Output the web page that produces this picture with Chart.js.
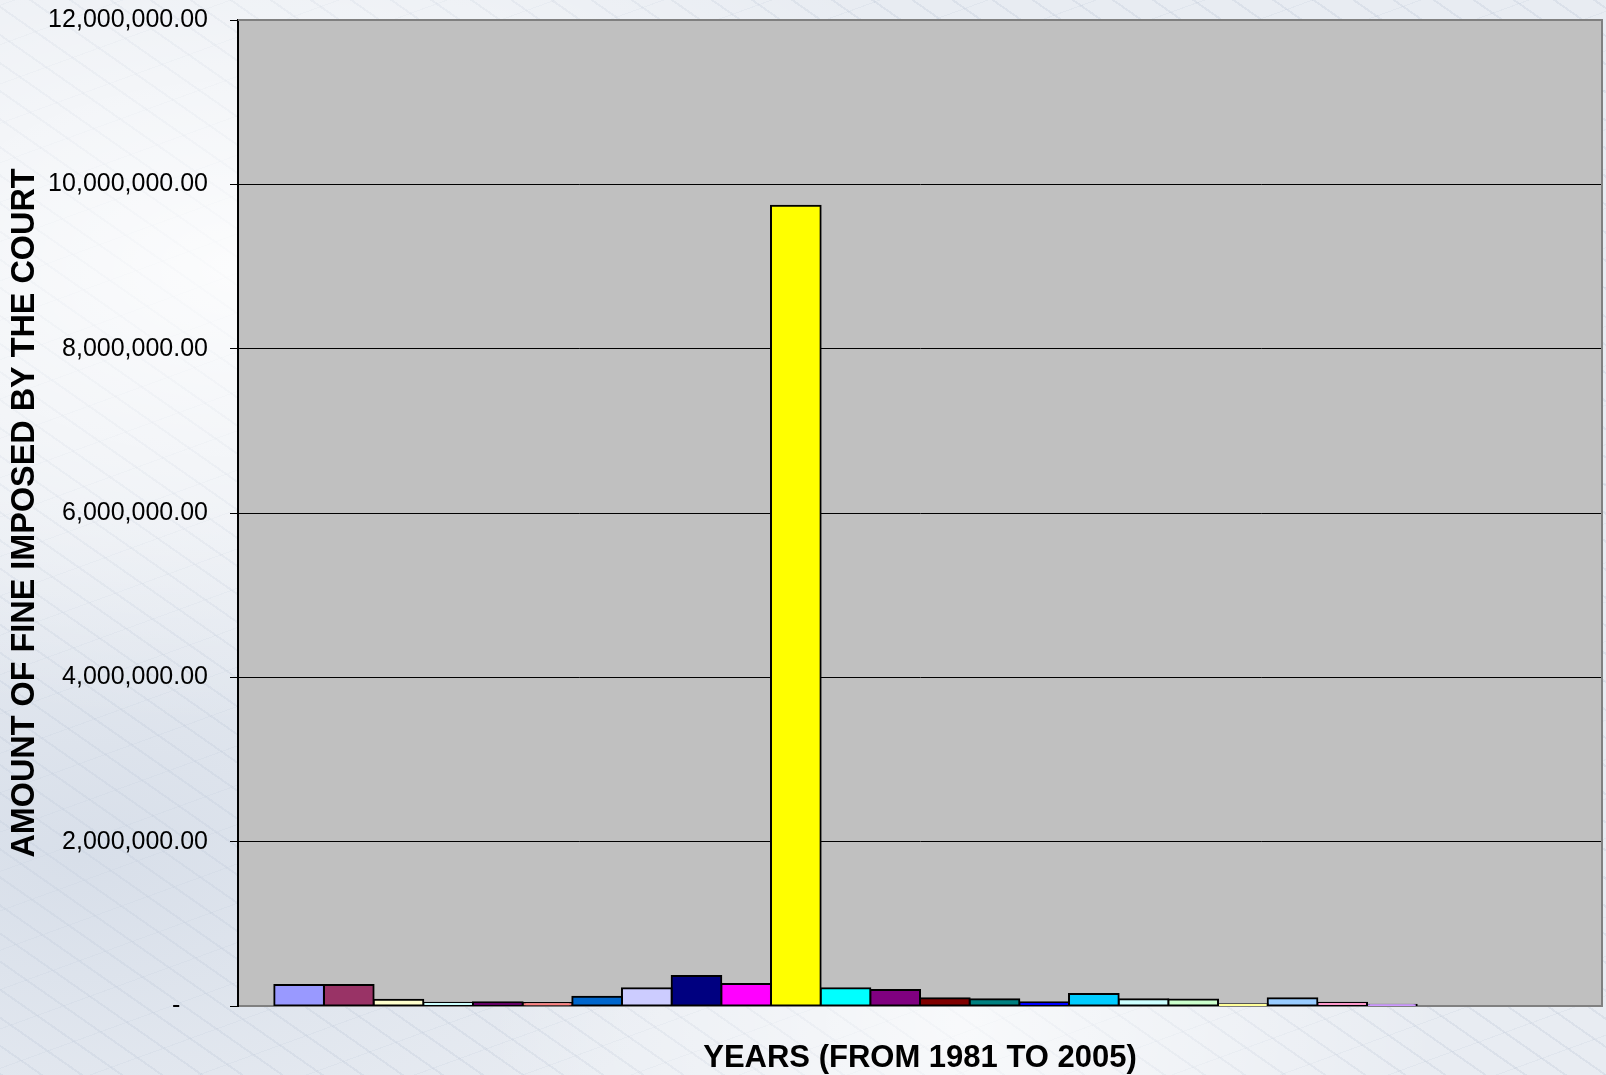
<!DOCTYPE html>
<html>
<head>
<meta charset="utf-8">
<title>Amount of fine imposed by the court</title>
<script src="https://cdn.jsdelivr.net/npm/chart.js@4.4.0/dist/chart.umd.min.js"></script>
<style>
    html, body {
        margin: 0;
        padding: 0;
    }
    body {
        width: 1606px;
        height: 1075px;
        overflow: hidden;
        /* rough stand-in for the marble backdrop */
        background:
            radial-gradient(ellipse at 15% 25%, rgba(255, 255, 255, 0.85), transparent 40%),
            radial-gradient(ellipse at 60% 95%, rgba(255, 255, 255, 0.7), transparent 35%),
            radial-gradient(ellipse at 5% 80%, rgba(200, 210, 225, 0.5), transparent 30%),
            repeating-linear-gradient(35deg, rgba(150, 165, 190, 0.16) 0 2px, transparent 2px 23px),
            repeating-linear-gradient(-20deg, rgba(165, 180, 200, 0.12) 0 1px, transparent 1px 37px),
            #e8ecf2;
    }
    canvas {
        display: block;
    }
</style>
</head>
<body>
<canvas id="fineChart" width="1606" height="1075"></canvas>
<script>
// one series per year, Excel style
const years = [
    '1980', '1981', '1982', '1983', '1984', '1985', '1986', '1987', '1988',
    '1989', '1990', '1991', '1992', '1993', '1994', '1995', '1996', '1997',
    '1998', '1999', '2000', '2001', '2002', '2003', '2004', '2005'
];

const fines = [
    256000, 255000, 77000, 40000, 45000, 35000, 113000, 215000, 365000,
    268000, 9740000, 215000, 195000, 94000, 82000, 45000, 146000, 82000,
    80000, 20000, 94000, 40000, 15000, 0, 0, 0
];

const barColors = [
    '#9999FF', '#993366', '#FFFFCC', '#CCFFFF', '#660066', '#FF8080', '#0066CC', '#CCCCFF', '#000080',
    '#FF00FF', '#FFFF00', '#00FFFF', '#800080', '#800000', '#008080', '#0000FF', '#00CCFF', '#CCFFFF',
    '#CCFFCC', '#FFFF99', '#99CCFF', '#FF99CC', '#CC99FF', '#FFCC99', '#3366FF', '#33CCCC'
];

const yMin = 0;
const yMax = 12000000;
const yStep = 2000000;

const xTitle = 'YEARS (FROM 1981 TO 2005)';
const yTitle = 'AMOUNT OF FINE IMPOSED BY THE COURT';

const FONT = "'Liberation Sans', Arial, sans-serif";

// grey plot area + grey frame on top/right
const plotAreaPlugin = {
    id: 'plotArea',
    beforeDraw(chart) {
        const { ctx, chartArea } = chart;
        ctx.save();
        ctx.fillStyle = '#C0C0C0';
        ctx.fillRect(chartArea.left, chartArea.top,
            chartArea.right - chartArea.left, chartArea.bottom - chartArea.top);
        ctx.restore();
    },
    afterDraw(chart) {
        const { ctx, chartArea } = chart;
        ctx.save();
        ctx.strokeStyle = '#808080';
        ctx.lineWidth = 2;
        ctx.beginPath();
        ctx.moveTo(chartArea.left, chartArea.top);
        ctx.lineTo(chartArea.right, chartArea.top);
        ctx.lineTo(chartArea.right, chartArea.bottom);
        ctx.stroke();
        ctx.restore();
    }
};

function formatAmount(value) {
    if (value === 0) return '-    ';
    return value.toLocaleString('en-US', { minimumFractionDigits: 2, maximumFractionDigits: 2 });
}

const datasets = years.map((year, i) => ({
    label: year,
    data: [fines[i]],
    backgroundColor: barColors[i],
    borderColor: '#000000',
    borderWidth: 2,
    borderSkipped: false,
    // Excel strokes the outline on the edge, so grow the box a little
    inflateAmount: 1
}));

const ctx = document.getElementById('fineChart').getContext('2d');

const fineChart = new Chart(ctx, {
    type: 'bar',
    data: {
        labels: [''],
        datasets: datasets
    },
    options: {
        responsive: false,
        animation: false,
        datasets: {
            bar: {
                categoryPercentage: 0.9468,
                barPercentage: 1
            }
        },
        layout: {
            padding: { top: 20, right: 4, bottom: 0, left: 0 }
        },
        scales: {
            x: {
                ticks: { display: false },
                grid: { display: false },
                border: { display: true, color: '#808080', width: 2 },
                title: {
                    display: true,
                    text: xTitle,
                    color: '#000000',
                    font: { family: FONT, size: 31, weight: 'bold', lineHeight: 1.05 },
                    padding: { top: 0, bottom: 0 }
                },
                afterFit(scale) {
                    scale.height = 69;
                }
            },
            y: {
                min: yMin,
                max: yMax,
                ticks: {
                    stepSize: yStep,
                    color: '#000000',
                    padding: 22,
                    font: { family: FONT, size: 25 },
                    callback: (value) => formatAmount(value)
                },
                grid: {
                    color: '#000000',
                    lineWidth: 1,
                    drawTicks: true,
                    tickLength: 8,
                    tickColor: '#000000'
                },
                border: { display: true, color: '#000000', width: 2 },
                title: {
                    display: true,
                    text: yTitle,
                    color: '#000000',
                    font: { family: FONT, size: 32.4, weight: 'bold' },
                    padding: { top: 6, bottom: 0 }
                },
                afterFit(scale) {
                    scale.width = 238;
                    // tick padding should not push the plot top down
                    scale.paddingTop = 14;
                    scale.paddingBottom = 14;
                }
            }
        },
        plugins: {
            legend: { display: false },
            tooltip: { enabled: false }
        }
    },
    plugins: [plotAreaPlugin]
});

console.log('chart area', fineChart.chartArea);
</script>
</body>
</html>
